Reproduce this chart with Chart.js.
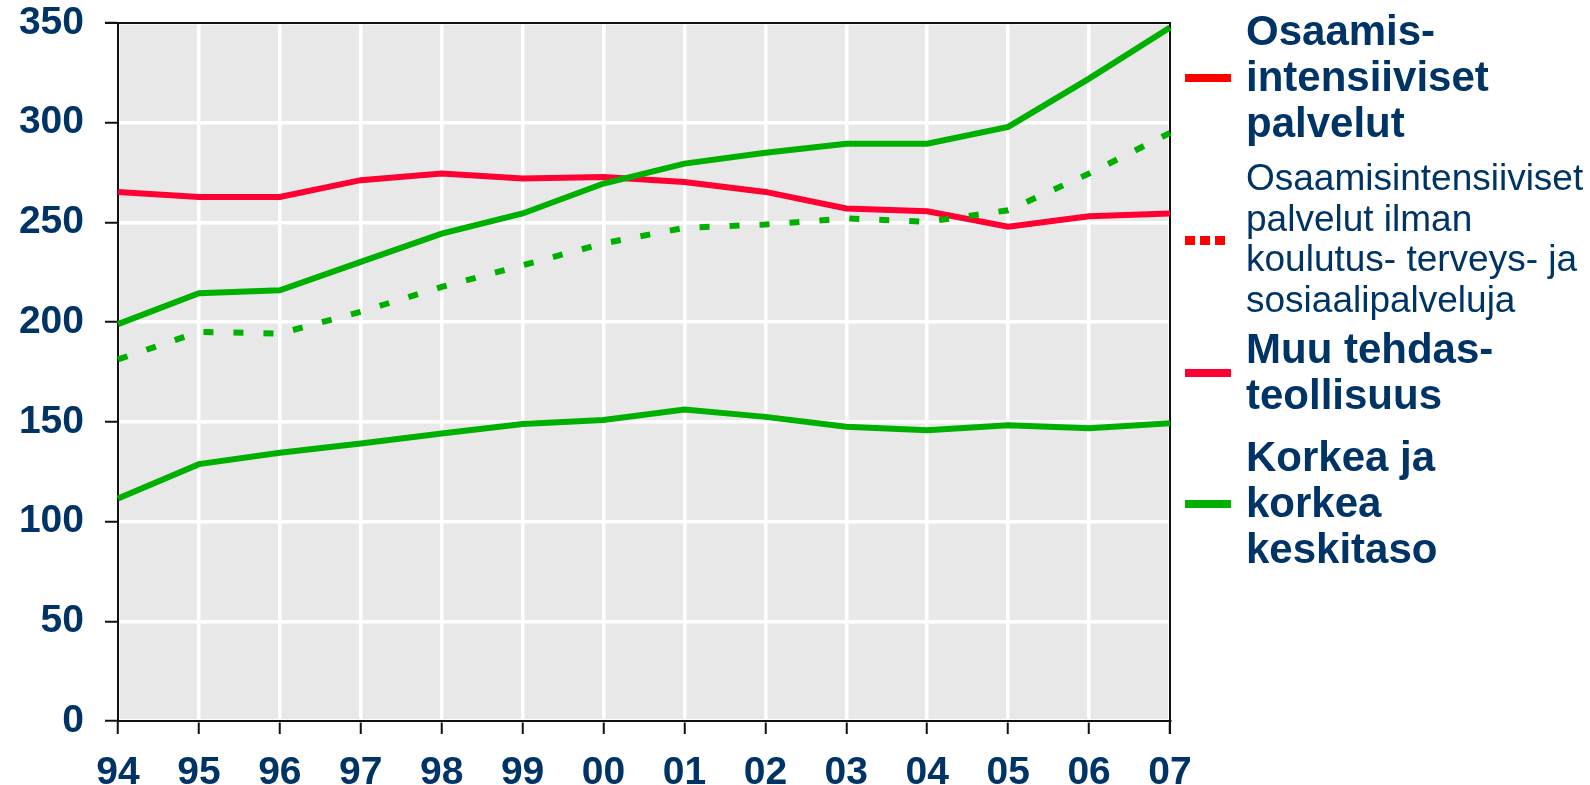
<!DOCTYPE html>
<html>
<head>
<meta charset="utf-8">
<script src="https://cdn.jsdelivr.net/npm/chart.js@4"></script>
<style>
  body { margin: 0; background: #fff; }
  #wrap { position: relative; width: 1590px; height: 785px; overflow: hidden; }
  .lg { position: absolute; left: 1246px; color: #003366; font-family: 'Liberation Sans', Arial, sans-serif; white-space: nowrap; }
  .lg.b { font-weight: bold; font-size: 42px; line-height: 46px; }
  .lg.n { font-size: 37px; line-height: 40.5px; }
  .sw { position: absolute; left: 1185px; width: 46px; height: 8px; }
  .dots { position: absolute; left: 1185px; height: 9px; width: 42px;
          background: repeating-linear-gradient(90deg, #ff0000 0 10px, transparent 10px 15px); }
</style>
</head>
<body>
<div id="wrap">
  <canvas id="chart"></canvas>
  <div class="sw" style="top:74px;background:#ff0000"></div>
  <div class="lg b" style="top:8px">Osaamis-<br>intensiiviset<br>palvelut</div>
  <div class="dots" style="top:236px"></div>
  <div class="lg n" style="top:158px">Osaamisintensiiviset<br>palvelut ilman<br>koulutus- terveys- ja<br>sosiaalipalveluja</div>
  <div class="sw" style="top:369px;background:#ff0033"></div>
  <div class="lg b" style="top:326px">Muu tehdas-<br>teollisuus</div>
  <div class="sw" style="top:500px;background:#00b000"></div>
  <div class="lg b" style="top:434px">Korkea ja<br>korkea<br>keskitaso</div>
</div>
<script>
// vuodet 1994-2007
var categories = ['94', '95', '96', '97', '98', '99', '00', '01', '02', '03', '04', '05', '06', '07'];

var osaamis = [199, 214.5, 216, 230.2, 244.4, 254.5, 269.5, 279.5, 284.9, 289.5, 289.5, 297.9, 322.1, 347.7];
var osaamisIlman = [181.3, 195.1, 194.3, 205.2, 217.7, 228.5, 239.5, 247.3, 249, 252, 250.3, 256.1, 274.5, 294.9];
var muuTehdas = [265.3, 262.8, 262.8, 271.2, 274.5, 272, 272.8, 270.3, 265.3, 257, 255.6, 247.8, 253.1, 254.5];
var korkea = [111.6, 128.8, 134.5, 139.2, 144.2, 148.9, 150.9, 156.2, 152.5, 147.5, 145.8, 148.3, 146.8, 149.3];

var yMin = 0, yMax = 350, yStep = 50;

var navy = '#003366';
var green = '#00b000';
var red = '#ff0033';

Chart.defaults.font.family = "'Liberation Sans', Arial, sans-serif";

// harmaa kuva-ala + ylä- ja oikea reuna
var plotBg = {
  id: 'plotBg',
  beforeDraw: function(chart) {
    var a = chart.chartArea, ctx = chart.ctx;
    ctx.save();
    ctx.fillStyle = '#e8e8e8';
    ctx.fillRect(a.left, a.top, a.right - a.left, a.bottom - a.top);
    ctx.restore();
  },
  beforeDatasetsDraw: function(chart) {
    var a = chart.chartArea, ctx = chart.ctx;
    ctx.save();
    ctx.strokeStyle = '#111';
    ctx.lineWidth = 2;
    ctx.beginPath();
    ctx.moveTo(a.left - 13, a.top);
    ctx.lineTo(a.right, a.top);
    ctx.lineTo(a.right, a.bottom + 13);
    ctx.stroke();
    ctx.restore();
  }
};

var ctx = document.getElementById('chart').getContext('2d');
document.getElementById('chart').parentNode.style.height = '785px';

new Chart(ctx, {
  type: 'line',
  data: {
    labels: categories,
    datasets: [
      { label: 'Osaamis-intensiiviset palvelut', data: osaamis, borderColor: green, borderWidth: 6 },
      { label: 'Osaamisintensiiviset palvelut ilman koulutus- terveys- ja sosiaalipalveluja', data: osaamisIlman, borderColor: green, borderWidth: 6, borderDash: [10, 20] },
      { label: 'Muu tehdasteollisuus', data: muuTehdas, borderColor: red, borderWidth: 6 },
      { label: 'Korkea ja korkea keskitaso', data: korkea, borderColor: green, borderWidth: 6 }
    ]
  },
  options: {
    responsive: true,
    maintainAspectRatio: false,
    animation: false,
    layout: { padding: { top: 23, right: 420, left: 0, bottom: 0 } },
    elements: { point: { radius: 0 }, line: { tension: 0, borderCapStyle: 'butt' } },
    plugins: { legend: { display: false }, tooltip: { enabled: false } },
    scales: {
      x: {
        offset: false,
        grid: { color: '#ffffff', lineWidth: 3.5, tickColor: '#111', tickWidth: 2, tickLength: 13 },
        border: { color: '#111', width: 2 },
        ticks: { color: navy, font: { size: 39, weight: 'bold' }, padding: 16, maxRotation: 0, autoSkip: false },
        afterFit: function(s) { s.height = 64; s.paddingLeft = 0; s.paddingRight = 0; }
      },
      y: {
        min: yMin,
        max: yMax,
        grid: { color: '#ffffff', lineWidth: 3.5, tickColor: '#111', tickWidth: 2, tickLength: 13 },
        border: { color: '#111', width: 2 },
        ticks: { stepSize: yStep, color: navy, font: { size: 39, weight: 'bold' }, padding: 21 },
        afterFit: function(s) { s.width = 118; s.paddingTop = 0; s.paddingBottom = 0; }
      }
    }
  },
  plugins: [plotBg]
});
</script>
</body>
</html>
